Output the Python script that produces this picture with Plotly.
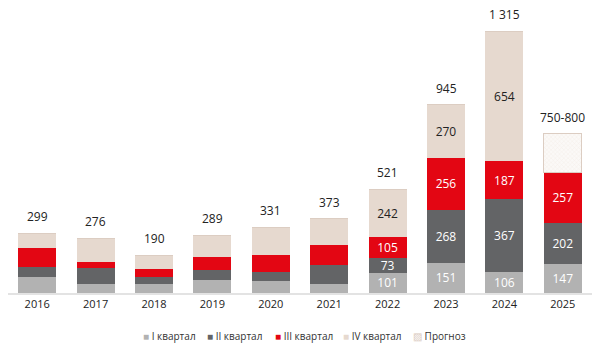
import plotly.graph_objects as go

years = ["2016", "2017", "2018", "2019", "2020", "2021", "2022", "2023", "2024", "2025"]
q1 = [79, 45, 44, 64, 59, 45, 101, 151, 106, 147]
q2 = [49, 79, 36, 50, 45, 98, 73, 268, 367, 202]
q3 = [97, 34, 38, 67, 89, 97, 105, 256, 187, 257]
q4 = [74, 118, 72, 108, 138, 133, 242, 270, 654, 0]
forecast = [0, 0, 0, 0, 0, 0, 0, 0, 0, 194]
total_labels = ["299", "276", "190", "289", "331", "373", "521", "945", "1 315", "750-800"]
show_inner = [False, False, False, False, False, False, True, True, True, True]
legend_names = ["I квартал", "II квартал", "III квартал", "IV квартал", "Прогноз"]

FONT = "Open Sans"
COLORS = ["#b2b2b2", "#636466", "#e30613", "#e6d9cf"]
TEXT_COLORS = ["white", "white", "white", "#222222"]

def inner(vals):
    return [str(v) if s and v > 0 else "" for v, s in zip(vals, show_inner)]

fig = go.Figure()
for name, vals, col, tcol in zip(legend_names[:4], [q1, q2, q3, q4], COLORS, TEXT_COLORS):
    fig.add_trace(go.Bar(
        x=years, y=vals, name=name, marker=dict(color=col, line=dict(width=0)),
        text=inner(vals), textposition="inside", insidetextanchor="middle",
        textfont=dict(color=tcol, size=12, family=FONT), hoverinfo="skip",
        constraintext="none", textangle=0,
    ))
fig.add_trace(go.Bar(
    x=years, y=forecast, name=legend_names[4],
    marker=dict(color="#fbf9f7", line=dict(color="#dccdc2", width=1),
                pattern=dict(shape="x", fgcolor="#ebe1da", size=3, solidity=0.3)),
    hoverinfo="skip",
))

tops = [a + b + c + d + e for a, b, c, d, e in zip(q1, q2, q3, q4, forecast)]
for i, (top, lab) in enumerate(zip(tops, total_labels)):
    fig.add_annotation(x=i, xref="x", y=top, text=lab, showarrow=False, yanchor="bottom", yshift=6,
                       font=dict(size=12, color="#222222", family=FONT))

# compact legend (square marker + label)
legend_px = [141, 205, 273, 341, 411]
legend_sym = ["■", "■", "■", "■", "▨"]
legend_col = COLORS + ["#d9c9bd"]
for px, name, sym, col in zip(legend_px, legend_names, legend_sym, legend_col):
    fig.add_annotation(
        x=(px - 8) / 584, xref="paper", y=-0.153, yref="paper", xanchor="left", yanchor="middle",
        showarrow=False,
        text=f"<span style='color:{col}'>{sym}</span> {name}",
        font=dict(size=10, color="#333333", family=FONT),
    )

fig.update_layout(
    barmode="stack", bargap=0.35,
    width=600, height=350,
    margin=dict(l=8, r=8, t=14, b=57),
    paper_bgcolor="white", plot_bgcolor="white",
    font=dict(family=FONT, size=11, color="#222222"),
    showlegend=False,
)
fig.update_xaxes(type="category", range=[-0.5, 9.5], showline=True, linecolor="#e3e3e3",
                 linewidth=1.5, ticks="", showgrid=False,
                 tickfont=dict(size=11, color="#222222", family=FONT))
fig.update_yaxes(range=[0, 1400], visible=False, showgrid=False)

fig.write_html("out.html")
